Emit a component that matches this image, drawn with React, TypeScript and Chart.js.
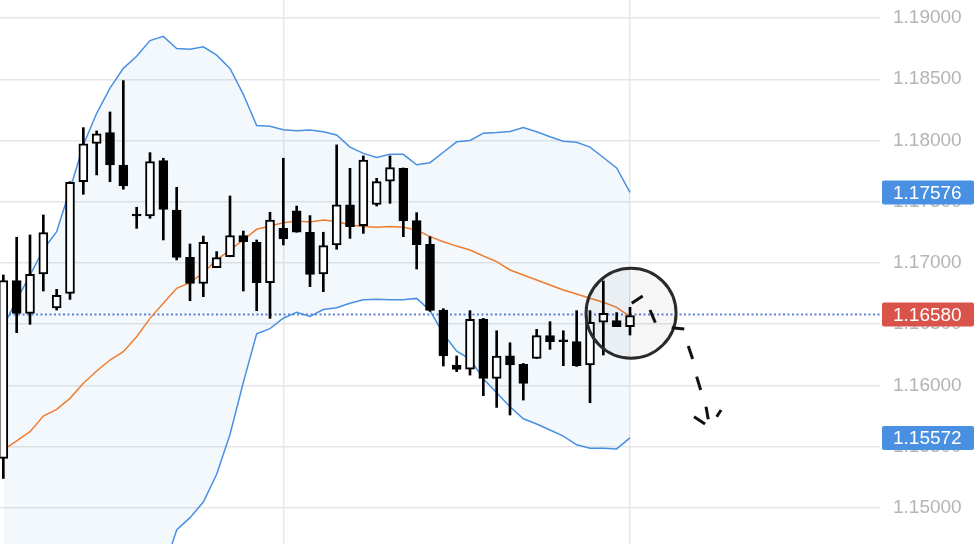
import React, { useEffect, useRef } from 'react';
import { Chart, registerables } from 'chart.js';

Chart.register(...registerables);

// ---- Data (candles) ----
const OPEN = [
  1.15405, 1.16856, 1.16589, 1.16910, 1.16633, 1.16752, 1.17664, 1.17977, 1.18064, 1.17800,
  1.17393, 1.17384, 1.17836, 1.17433, 1.17046, 1.16834, 1.16962, 1.17051, 1.17223, 1.17169,
  1.16839, 1.17283, 1.17425, 1.17251, 1.16910, 1.17147, 1.17474, 1.17305, 1.17479, 1.17669,
  1.17773, 1.17346, 1.17152, 1.16616, 1.16167, 1.16134, 1.16542, 1.16058, 1.16243, 1.16172,
  1.16221, 1.16407, 1.16366, 1.16358, 1.16167, 1.16516, 1.16529, 1.16480,
];
const HIGH = [
  1.16902, 1.17210, 1.17229, 1.17392, 1.16785, 1.17664, 1.18105, 1.18078, 1.18233, 1.18489,
  1.17455, 1.17901, 1.17855, 1.17618, 1.17155, 1.17220, 1.17093, 1.17547, 1.17261, 1.17188,
  1.17414, 1.17855, 1.17465, 1.17387, 1.17251, 1.17964, 1.17773, 1.17874, 1.17691, 1.17874,
  1.17776, 1.17411, 1.17215, 1.16627, 1.16241, 1.16611, 1.16548, 1.16447, 1.16349, 1.16180,
  1.16458, 1.16521, 1.16447, 1.16611, 1.16611, 1.16853, 1.16595, 1.16638,
];
const LOW = [
  1.15241, 1.16431, 1.16499, 1.16771, 1.16616, 1.16703, 1.17561, 1.17719, 1.17664, 1.17602,
  1.17283, 1.17365, 1.17188, 1.17025, 1.16692, 1.16725, 1.16962, 1.17051, 1.16771, 1.16611,
  1.16548, 1.17147, 1.17251, 1.16807, 1.16766, 1.17112, 1.17201, 1.17242, 1.17465, 1.17487,
  1.17215, 1.16951, 1.16605, 1.16159, 1.16113, 1.16085, 1.15917, 1.15821, 1.15759, 1.15881,
  1.16221, 1.16295, 1.16162, 1.16156, 1.15859, 1.16249, 1.16480, 1.16412,
];
const CLOSE = [
  1.16856, 1.16589, 1.16907, 1.17248, 1.16736, 1.17659, 1.17972, 1.18054, 1.17800, 1.17629,
  1.17390, 1.17828, 1.17438, 1.17046, 1.16834, 1.17169, 1.17044, 1.17223, 1.17174, 1.16839,
  1.17351, 1.17196, 1.17251, 1.16907, 1.17142, 1.17474, 1.17297, 1.17841, 1.17664, 1.17779,
  1.17343, 1.17150, 1.16613, 1.16241, 1.16132, 1.16540, 1.16058, 1.16241, 1.16167, 1.16017,
  1.16407, 1.16358, 1.16364, 1.16162, 1.16516, 1.16590, 1.16480, 1.16570,
];
const BB_UPPER = [
  1.16480, 1.16699, 1.16900, 1.17110, 1.17256, 1.17600, 1.17964, 1.18222, 1.18427, 1.18589,
  1.18688, 1.18816, 1.18850, 1.18751, 1.18745, 1.18765, 1.18697, 1.18589, 1.18377, 1.18122,
  1.18116, 1.18088, 1.18079, 1.18085, 1.18071, 1.18045, 1.17946, 1.17895, 1.17861, 1.17887,
  1.17887, 1.17802, 1.17819, 1.17904, 1.17989, 1.18000, 1.18060, 1.18065, 1.18074, 1.18105,
  1.18071, 1.18031, 1.17994, 1.17986, 1.17946, 1.17861, 1.17776, 1.17576,
];
const BB_LOWER = [
  1.14470, 1.14396, 1.14346, 1.14392, 1.14354, 1.14190, 1.14072, 1.14014, 1.13989, 1.13963,
  1.14108, 1.14280, 1.14492, 1.14821, 1.14921, 1.15048, 1.15275, 1.15600, 1.16025, 1.16422,
  1.16464, 1.16549, 1.16598, 1.16564, 1.16620, 1.16634, 1.16671, 1.16700, 1.16705, 1.16700,
  1.16700, 1.16711, 1.16612, 1.16422, 1.16280, 1.16215, 1.16054, 1.15940, 1.15827, 1.15728,
  1.15686, 1.15637, 1.15587, 1.15516, 1.15487, 1.15487, 1.15482, 1.15572,
];
const MA = [
  1.15475, 1.15548, 1.15623, 1.15751, 1.15805, 1.15895, 1.16018, 1.16118, 1.16208, 1.16276,
  1.16398, 1.16548, 1.16671, 1.16793, 1.16840, 1.16920, 1.17025, 1.17106, 1.17188, 1.17275,
  1.17302, 1.17329, 1.17343, 1.17335, 1.17351, 1.17338, 1.17310, 1.17297, 1.17291, 1.17297,
  1.17291, 1.17270, 1.17215, 1.17174, 1.17138, 1.17106, 1.17057, 1.17011, 1.16943, 1.16902,
  1.16861, 1.16820, 1.16780, 1.16747, 1.16712, 1.16679, 1.16638, 1.16562,
];
const Y_TICKS = [1.15, 1.155, 1.16, 1.165, 1.17, 1.175, 1.18, 1.185, 1.19];
const V_GRID = [21, 47];
const CURRENT_PRICE = 1.1658;
const X_RANGE = [-0.25, 65.75];
const Y_RANGE = [1.14706, 1.19147];

// annotation (circle + hand drawn dashed arrow) in data coordinates
const CIRCLE_CENTER = [47.08, 1.1659];
const ARROW_DASHES = [
  [[47.13, 1.16671], [47.95, 1.16731]],
  [[48.5, 1.16616], [48.9, 1.16513]],
  [[50.13, 1.16472], [51.07, 1.16461]],
  [[51.37, 1.16322], [51.7, 1.16216]],
  [[52.0, 1.16072], [52.3, 1.15963]],
  [[52.7, 1.15827], [52.87, 1.15724]],
  [[51.8, 1.15745], [52.63, 1.15686]],
  [[53.5, 1.15745], [53.83, 1.158]],
];

const FONT = { family: '"Liberation Sans", Arial, Helvetica, sans-serif', size: 19 };

export default function App() {
  const ref = useRef<HTMLCanvasElement | null>(null);

  useEffect(() => {
    if (!ref.current) return;
    const idx = OPEN.map((_, i) => i);
    const minH = 0.00014;
    const bodies = idx.map((i) => {
      const lo = Math.min(OPEN[i], CLOSE[i]);
      const hi = Math.max(OPEN[i], CLOSE[i]);
      if (hi - lo < minH) {
        const m = (hi + lo) / 2;
        return { x: i, y: [m - minH / 2, m + minH / 2] };
      }
      return { x: i, y: [lo, hi] };
    });
    const bodyColors = idx.map((i) => (CLOSE[i] >= OPEN[i] ? '#ffffff' : '#000000'));
    const wicks = idx.map((i) => ({ x: i, y: [LOW[i], HIGH[i]] }));

    const markers = [
      { value: BB_UPPER[BB_UPPER.length - 1], color: '#4a90e2' },
      { value: CURRENT_PRICE, color: '#d9534a' },
      { value: BB_LOWER[BB_LOWER.length - 1], color: '#4a90e2' },
    ];

    const overlay = {
      id: 'overlay',
      beforeDatasetsDraw(chart: any) {
        const { ctx, chartArea, scales } = chart;
        const y = scales.y.getPixelForValue(CURRENT_PRICE);
        ctx.save();
        ctx.strokeStyle = '#5f7fd9';
        ctx.lineWidth = 2;
        ctx.setLineDash([2, 2.5]);
        ctx.beginPath();
        ctx.moveTo(chartArea.left, y);
        ctx.lineTo(chartArea.right, y);
        ctx.stroke();
        ctx.restore();
      },
      afterDatasetsDraw(chart: any) {
        const { ctx, scales } = chart;
        const cx = scales.x.getPixelForValue(CIRCLE_CENTER[0]);
        const cy = scales.y.getPixelForValue(CIRCLE_CENTER[1]);
        ctx.save();
        ctx.beginPath();
        ctx.arc(cx, cy, 45, 0, Math.PI * 2);
        ctx.fillStyle = 'rgba(0,0,0,0.035)';
        ctx.fill();
        ctx.lineWidth = 3;
        ctx.strokeStyle = '#2a2a2a';
        ctx.stroke();
        ctx.strokeStyle = '#111111';
        ctx.lineWidth = 3;
        ctx.lineCap = 'butt';
        ARROW_DASHES.forEach(([a, b]) => {
          ctx.beginPath();
          ctx.moveTo(scales.x.getPixelForValue(a[0]), scales.y.getPixelForValue(a[1]));
          ctx.lineTo(scales.x.getPixelForValue(b[0]), scales.y.getPixelForValue(b[1]));
          ctx.stroke();
        });
        ctx.restore();
      },
      afterDraw(chart: any) {
        const { ctx, chartArea, scales } = chart;
        ctx.save();
        ctx.font = `${FONT.size}px ${FONT.family}`;
        ctx.textBaseline = 'middle';
        ctx.textAlign = 'left';
        markers.forEach((m) => {
          const y = scales.y.getPixelForValue(m.value);
          const x0 = chartArea.right + 2;
          const w = 92;
          const h = 24;
          ctx.fillStyle = m.color;
          ctx.beginPath();
          (ctx as any).roundRect(x0, y - h / 2, w, h, 2);
          ctx.fill();
          ctx.fillStyle = '#ffffff';
          ctx.fillText(m.value.toFixed(5), chartArea.right + 13, y + 1);
        });
        ctx.restore();
      },
    };

    const chart = new Chart(ref.current, {
      type: 'bar',
      data: {
        datasets: [
          {
            type: 'bar',
            label: 'body',
            data: bodies as any,
            backgroundColor: bodyColors,
            borderColor: '#000000',
            borderWidth: 2,
            borderSkipped: false,
            barThickness: 9,
            grouped: false,
            order: 0,
          } as any,
          {
            type: 'bar',
            label: 'wick',
            data: wicks as any,
            backgroundColor: '#000000',
            borderWidth: 0,
            barThickness: 2,
            grouped: false,
            order: 1,
          } as any,
          {
            type: 'line',
            label: 'MA',
            data: idx.map((i) => ({ x: i, y: MA[i] })),
            borderColor: '#f07c30',
            borderWidth: 1.5,
            pointRadius: 0,
            tension: 0,
            fill: false,
            order: 2,
          } as any,
          {
            type: 'line',
            label: 'BB upper',
            data: idx.map((i) => ({ x: i, y: BB_UPPER[i] })),
            borderColor: '#4a90e2',
            borderWidth: 1.5,
            pointRadius: 0,
            tension: 0,
            fill: '+1',
            backgroundColor: 'rgba(74,144,226,0.065)',
            order: 3,
          } as any,
          {
            type: 'line',
            label: 'BB lower',
            data: idx.map((i) => ({ x: i, y: BB_LOWER[i] })),
            borderColor: '#4a90e2',
            borderWidth: 1.5,
            pointRadius: 0,
            tension: 0,
            fill: false,
            order: 4,
          } as any,
        ],
      },
      options: {
        responsive: false,
        animation: false,
        devicePixelRatio: 1,
        layout: { padding: 0 },
        plugins: { legend: { display: false }, tooltip: { enabled: false } },
        scales: {
          x: {
            type: 'linear',
            min: X_RANGE[0],
            max: X_RANGE[1],
            offset: false,
            ticks: { display: false },
            grid: { color: '#e8e8e8', lineWidth: 1.5, drawTicks: false, offset: false },
            border: { display: false },
            afterBuildTicks: (s: any) => {
              s.ticks = V_GRID.map((v) => ({ value: v }));
            },
            afterFit: (s: any) => {
              s.height = 0;
              s.paddingLeft = 0;
              s.paddingRight = 0;
              s.paddingTop = 0;
              s.paddingBottom = 0;
            },
          },
          y: {
            type: 'linear',
            position: 'right',
            min: Y_RANGE[0],
            max: Y_RANGE[1],
            afterBuildTicks: (s: any) => {
              s.ticks = Y_TICKS.map((v) => ({ value: v }));
            },
            ticks: {
              callback: (v: any) => Number(v).toFixed(5),
              color: '#b4b4b4',
              font: FONT,
              padding: 13,
              autoSkip: false,
            },
            grid: { color: '#e6e6e6', lineWidth: 1.5, drawTicks: false },
            border: { display: false },
            afterFit: (s: any) => {
              s.width = 95;
              s.paddingTop = 0;
              s.paddingBottom = 0;
              s.paddingLeft = 0;
              s.paddingRight = 0;
            },
          },
        },
      } as any,
      plugins: [overlay],
    });
    return () => chart.destroy();
  }, []);

  return (
    <div style={{ position: 'fixed', left: 0, top: 0, width: 975, height: 544, background: '#ffffff' }}>
      <canvas ref={ref} width={975} height={544} style={{ display: 'block' }} />
    </div>
  );
}
